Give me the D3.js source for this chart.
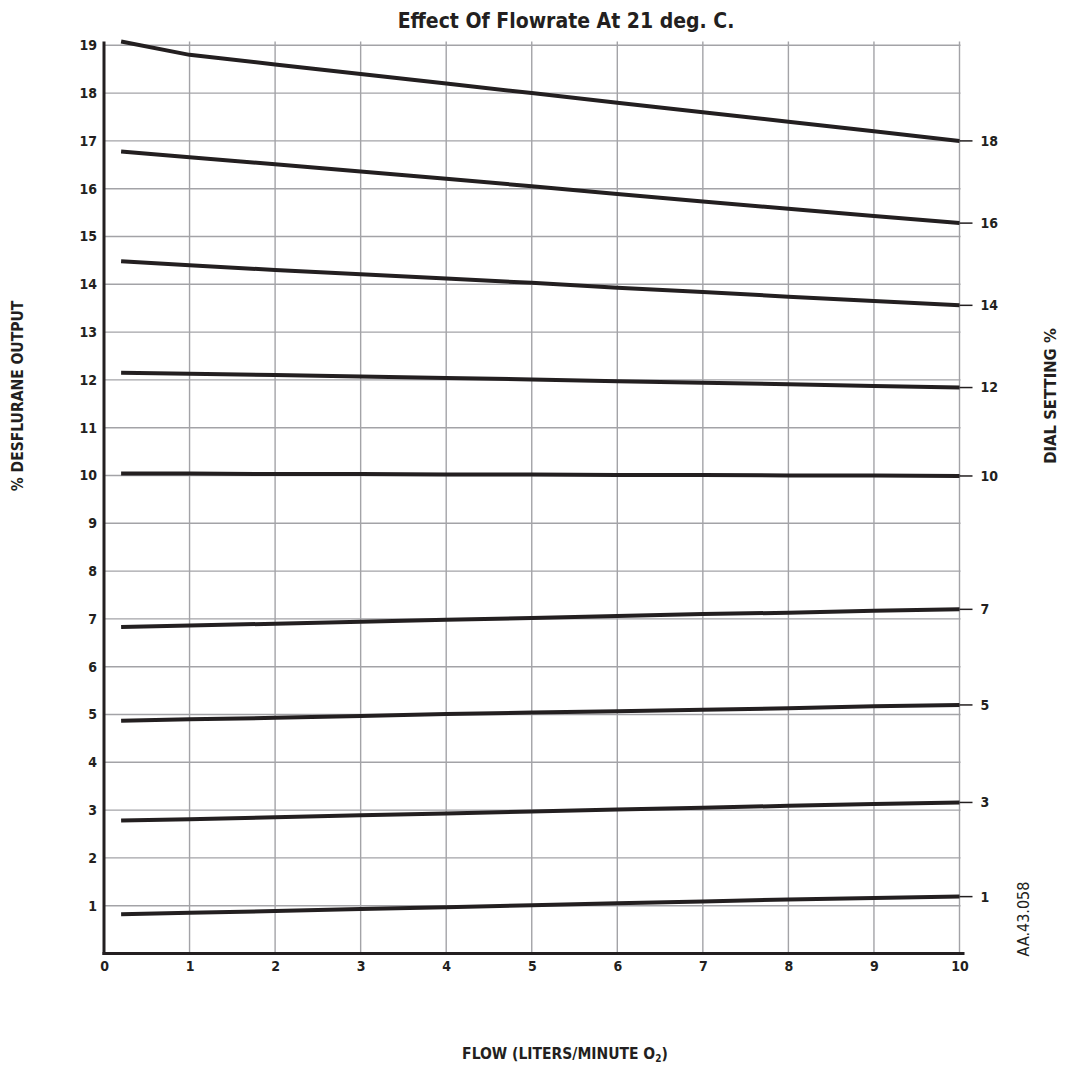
<!DOCTYPE html>
<html>
<head>
<meta charset="utf-8">
<script src="https://cdn.jsdelivr.net/npm/d3@7"></script>
<style>
  html, body { margin: 0; padding: 0; background: #fff; }
  svg text { font-family: "DejaVu Sans Condensed", "Liberation Sans Narrow", sans-serif; fill: #231f20; }
</style>
</head>
<body>
<svg id="chart" width="1072" height="1067"></svg>
<script>
// ---- data ----
const flow = [0.2, 1, 2, 3, 4, 5, 6, 7, 8, 9, 10];
const dialSettings = [18, 16, 14, 12, 10, 7, 5, 3, 1];
const dial18 = [19.08, 18.80, 18.60, 18.40, 18.20, 18.00, 17.80, 17.60, 17.40, 17.20, 17.00];
const dial16 = [16.78, 16.66, 16.51, 16.36, 16.21, 16.05, 15.89, 15.73, 15.58, 15.43, 15.28];
const dial14 = [14.48, 14.40, 14.30, 14.21, 14.12, 14.03, 13.93, 13.84, 13.74, 13.65, 13.56];
const dial12 = [12.15, 12.13, 12.10, 12.07, 12.04, 12.01, 11.97, 11.94, 11.91, 11.87, 11.84];
const dial10 = [10.04, 10.04, 10.03, 10.03, 10.02, 10.02, 10.01, 10.01, 10.00, 10.00, 9.99];
const dial7  = [6.83, 6.86, 6.90, 6.94, 6.98, 7.02, 7.06, 7.10, 7.13, 7.17, 7.20];
const dial5  = [4.87, 4.90, 4.93, 4.97, 5.01, 5.04, 5.07, 5.10, 5.13, 5.17, 5.20];
const dial3  = [2.78, 2.81, 2.85, 2.89, 2.93, 2.97, 3.01, 3.05, 3.09, 3.13, 3.16];
const dial1  = [0.82, 0.85, 0.89, 0.93, 0.97, 1.01, 1.05, 1.09, 1.13, 1.16, 1.19];
const seriesValues = [dial18, dial16, dial14, dial12, dial10, dial7, dial5, dial3, dial1];
const xTicks = [0, 1, 2, 3, 4, 5, 6, 7, 8, 9, 10];
const yTicks = [1, 2, 3, 4, 5, 6, 7, 8, 9, 10, 11, 12, 13, 14, 15, 16, 17, 18, 19];

const titleText = "Effect Of Flowrate At 21 deg. C.";
const yTitle = "% DESFLURANE OUTPUT";
const rightTitle = "DIAL SETTING %";
const codeText = "AA.43.058";

// ---- layout ----
const svg = d3.select("#chart");
const x = d3.scaleLinear().domain([0, 10]).range([104, 959.5]);
const y = d3.scaleLinear().domain([0, 19]).range([953.5, 45.3]);
const gridTop = 41.5;
const gridColor = "#a3a3a7";
const fontFam = '"DejaVu Sans Condensed", "Liberation Sans Narrow", sans-serif';

// grid
const grid = svg.append("g");
grid.selectAll("line.v").data(xTicks.filter(d => d > 0)).enter().append("line")
  .attr("x1", d => x(d)).attr("x2", d => x(d))
  .attr("y1", y(0)).attr("y2", gridTop)
  .attr("stroke", gridColor).attr("stroke-width", 1.4);
grid.selectAll("line.h").data(yTicks).enter().append("line")
  .attr("x1", x(0)).attr("x2", x(10) + 1)
  .attr("y1", d => y(d)).attr("y2", d => y(d))
  .attr("stroke", gridColor).attr("stroke-width", 1.4);

// series lines
const line = d3.line().x((d, i) => x(flow[i])).y(d => y(d));
svg.append("g").selectAll("path").data(seriesValues).enter().append("path")
  .attr("d", d => line(d))
  .attr("fill", "none").attr("stroke", "#231f20").attr("stroke-width", 4);

// right dial ticks and labels
const rightG = svg.append("g");
rightG.selectAll("line").data(seriesValues).enter().append("line")
  .attr("x1", x(10)).attr("x2", x(10) + 13)
  .attr("y1", d => y(d[d.length - 1])).attr("y2", d => y(d[d.length - 1]))
  .attr("stroke", "#231f20").attr("stroke-width", 1.5);
rightG.selectAll("text").data(seriesValues).enter().append("text")
  .attr("x", x(10) + 21).attr("y", d => y(d[d.length - 1]))
  .attr("dy", "0.35em")
  .attr("font-size", 14).attr("font-weight", "bold")
  .text((d, i) => dialSettings[i]);

// axes
const yAxis = d3.axisLeft(y).tickValues(yTicks).tickSize(0).tickPadding(7);
const yg = svg.append("g").attr("transform", `translate(${x(0)},0)`).call(yAxis);
yg.select(".domain").remove();
yg.selectAll("text").attr("font-size", 14).attr("font-weight", "bold").attr("fill", "#231f20")
  .style("font-family", fontFam);

const xAxis = d3.axisBottom(x).tickValues(xTicks).tickSize(0).tickPadding(8);
const xg = svg.append("g").attr("transform", `translate(0,${y(0)})`).call(xAxis);
xg.select(".domain").remove();
xg.selectAll("text").attr("font-size", 14).attr("font-weight", "bold").attr("fill", "#231f20")
  .style("font-family", fontFam);

// axis lines
svg.append("line").attr("x1", x(0)).attr("x2", x(0)).attr("y1", gridTop).attr("y2", y(0) + 1.5)
  .attr("stroke", "#231f20").attr("stroke-width", 3);
svg.append("line").attr("x1", x(0) - 1.5).attr("x2", x(10) + 5).attr("y1", y(0)).attr("y2", y(0))
  .attr("stroke", "#231f20").attr("stroke-width", 3);

// titles
svg.append("text").attr("x", 566).attr("y", 28).attr("text-anchor", "middle")
  .attr("font-size", 21).attr("font-weight", "bold").text(titleText);

svg.append("text").attr("transform", "translate(23,396) rotate(-90)")
  .attr("text-anchor", "middle").attr("font-size", 15.5).attr("font-weight", "bold").text(yTitle);

svg.append("text").attr("transform", "translate(1056,396) rotate(-90)")
  .attr("text-anchor", "middle").attr("font-size", 16.5).attr("font-weight", "bold").text(rightTitle);

svg.append("text").attr("transform", "translate(1029,919) rotate(-90)")
  .attr("text-anchor", "middle").attr("font-size", 16).attr("font-weight", "normal").text(codeText);

const xt = svg.append("text").attr("x", 565).attr("y", 1059).attr("text-anchor", "middle")
  .attr("font-size", 15.5).attr("font-weight", "bold");
xt.append("tspan").text("FLOW (LITERS/MINUTE O");
xt.append("tspan").attr("font-size", 10).attr("dy", 3).text("2");
xt.append("tspan").attr("dy", -3).text(")");
</script>
</body>
</html>
